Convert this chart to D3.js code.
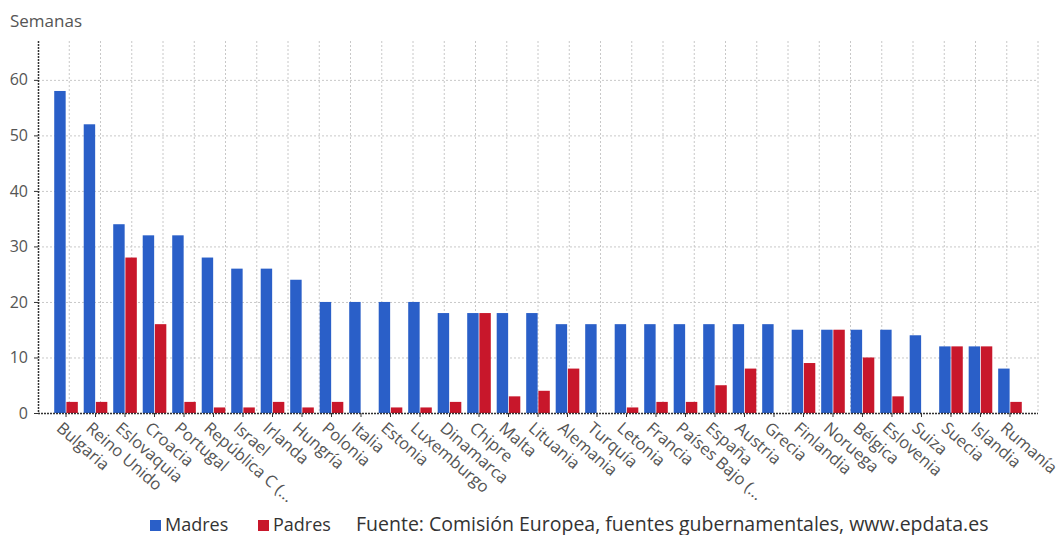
<!DOCTYPE html>
<html><head><meta charset="utf-8">
<script src="https://cdn.jsdelivr.net/npm/d3@7"></script>
<style>
body{margin:0;background:#fff;}
svg{display:block;font-family:"Open Sans",sans-serif;}
</style></head>
<body>
<svg id="c" width="1056" height="535"></svg>
<script>
const categories = ["Bulgaria","Reino Unido","Eslovaquia","Croacia","Portugal","República C (...","Israel","Irlanda","Hungría","Polonia","Italia","Estonia","Luxemburgo","Dinamarca","Chipre","Malta","Lituania","Alemania","Turquía","Letonia","Francia","Países Bajo (...","España","Austria","Grecia","Finlandia","Noruega","Bélgica","Eslovenia","Suiza","Suecia","Islandia","Rumanía"];
const madres = [58,52,34,32,32,28,26,26,24,20,20,20,20,18,18,18,18,16,16,16,16,16,16,16,16,15,15,15,15,14,12,12,8];
const padres = [2,2,28,16,2,1,1,2,1,2,0,1,1,2,18,3,4,8,0,1,2,2,5,8,0,9,15,10,3,0,12,12,2];
const yTicks = [0,10,20,30,40,50,60];
const seriesNames = ["Madres","Padres"];
const colors = ["#2a5fc8","#c8172b"];
const source = "Fuente: Comisión Europea, fuentes gubernamentales, www.epdata.es";

const svg = d3.select("#c");
const L = 38, R = 1038, T = 41, B = 413;

const x = d3.scaleBand().domain(categories).range([L, R]).paddingInner(0).paddingOuter(0.45);
const y = d3.scaleLinear().domain([0, 67]).range([B, T]);
const groupW = x.bandwidth() * 0.8;
const x1 = d3.scaleBand().domain(seriesNames).range([0, groupW]).paddingInner(0.06);

// vertical grid (independent of categories)
const gx = d3.scaleLinear().domain([0, 32]).range([L, R]);
svg.append("g").selectAll("line").data(d3.range(1, 33)).join("line")
  .attr("x1", d => gx(d)).attr("x2", d => gx(d)).attr("y1", T).attr("y2", B)
  .attr("stroke", "#c8c8c8").attr("stroke-width", 1).attr("stroke-dasharray", "2,2");
// horizontal grid
svg.append("g").selectAll("line").data(yTicks.filter(d => d > 0)).join("line")
  .attr("x1", L).attr("x2", R).attr("y1", d => y(d) + 0.5).attr("y2", d => y(d) + 0.5)
  .attr("stroke", "#c8c8c8").attr("stroke-width", 1).attr("stroke-dasharray", "2,2");

// bars
const groups = svg.append("g").selectAll("g").data(categories).join("g")
  .attr("transform", d => `translate(${x(d) + (x.bandwidth() - groupW) / 2},0)`);
groups.selectAll("rect").data((d, i) => [madres[i], padres[i]].map((v, k) => ({k, v}))).join("rect")
  .attr("x", d => x1(seriesNames[d.k]))
  .attr("width", x1.bandwidth())
  .attr("y", d => y(d.v))
  .attr("height", d => B - y(d.v))
  .attr("fill", d => colors[d.k]);

// axes lines
svg.append("line").attr("x1", L + 0.5).attr("x2", L + 0.5).attr("y1", T).attr("y2", B)
  .attr("stroke", "#333").attr("stroke-width", 1.5).attr("stroke-dasharray", "2,1");
svg.append("line").attr("x1", L).attr("x2", R).attr("y1", B + 0.5).attr("y2", B + 0.5)
  .attr("stroke", "#333").attr("stroke-width", 1.5).attr("stroke-dasharray", "2,1");

// y axis ticks and labels
const ya = svg.append("g");
ya.selectAll("line").data(yTicks).join("line")
  .attr("x1", L - 4).attr("x2", L).attr("y1", d => y(d) + 0.5).attr("y2", d => y(d) + 0.5)
  .attr("stroke", "#333");
ya.selectAll("text").data(yTicks).join("text")
  .attr("x", 28).attr("y", d => y(d)).attr("dy", "0.35em")
  .attr("text-anchor", "end").attr("font-size", 16).attr("fill", "#555").text(d => d);

// x ticks and labels
const xa = svg.append("g");
xa.selectAll("line").data(categories).join("line")
  .attr("x1", d => x(d) + x.bandwidth() / 2).attr("x2", d => x(d) + x.bandwidth() / 2)
  .attr("y1", B).attr("y2", B + 4).attr("stroke", "#333");
xa.selectAll("text").data(categories).join("text")
  .attr("transform", d => `translate(${x(d) + x.bandwidth() / 2 - 3},${B + 8}) rotate(41)`)
  .attr("dy", "0.7em")
  .attr("text-anchor", "start").attr("font-size", 16.5).attr("fill", "#555").text(d => d);

// y title
svg.append("text").attr("x", 10).attr("y", 27).attr("font-size", 17).attr("fill", "#555").text("Semanas");

// legend
const lg = svg.append("g");
const lx = [150, 258];
seriesNames.forEach((s, i) => {
  lg.append("rect").attr("x", lx[i]).attr("y", 520).attr("width", 11).attr("height", 11).attr("fill", colors[i]);
  lg.append("text").attr("x", lx[i] + 15).attr("y", 531).attr("font-size", 18).attr("fill", "#333").text(s);
});
lg.append("text").attr("x", 356).attr("y", 531).attr("font-size", 19.5).attr("fill", "#333").text(source);
</script>
</body></html>
